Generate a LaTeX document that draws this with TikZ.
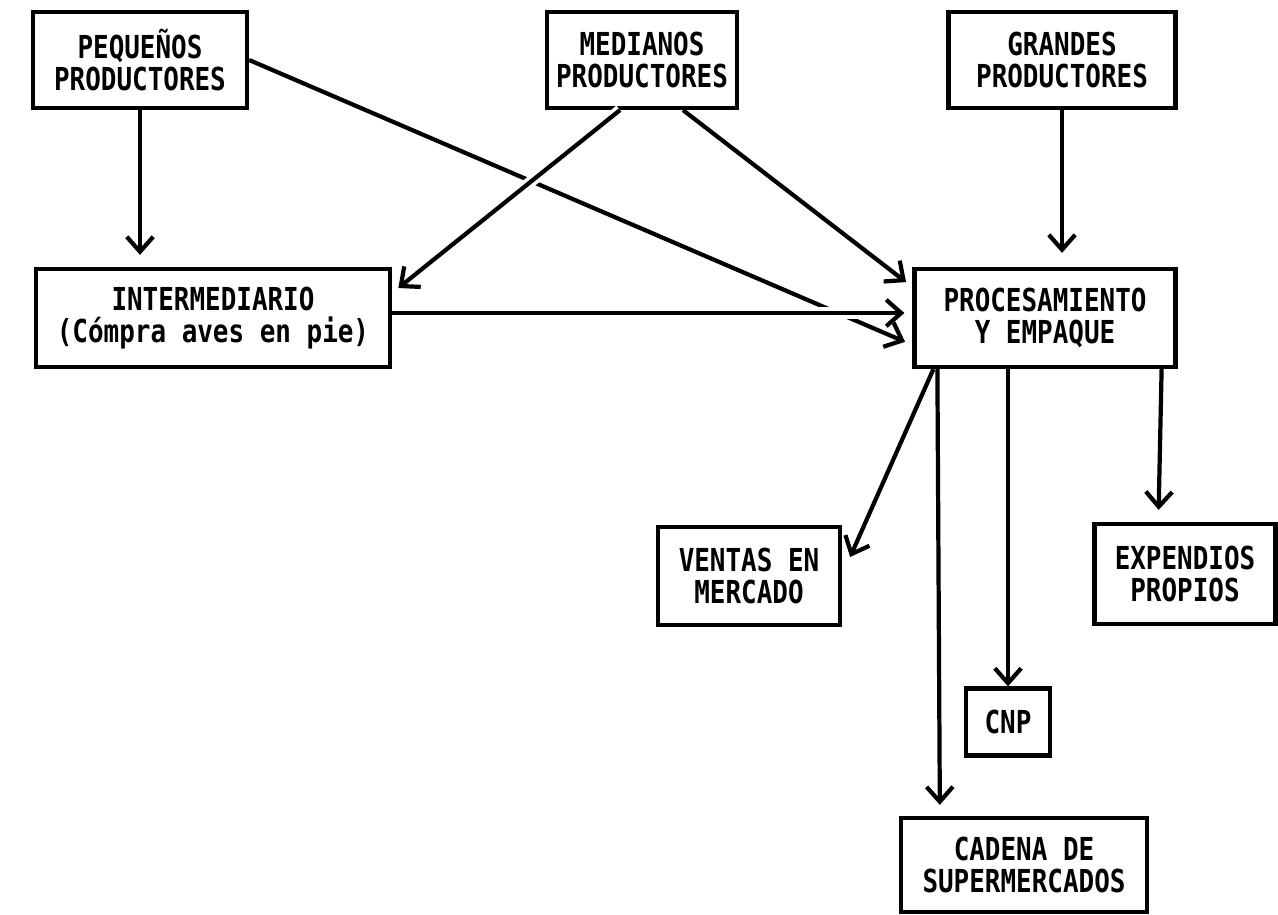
\documentclass[tikz,border=0pt]{standalone}
\usepackage{fontspec}
\setmainfont{DejaVu Sans Mono}[FakeStretch=0.82]
\usetikzlibrary{positioning}
\usetikzlibrary{arrows.meta}
\usetikzlibrary{calc}
\tikzstyle{box}=[rectangle,draw=black,line width=2.4pt,align=center,inner sep=0pt,font=\bfseries\fontsize{18}{18.5}\selectfont]
\tikzstyle{edge} = [draw,line width=2.4pt,->]
\tikzstyle{hopedge} = [edge,preaction={draw=white,line width=6.5pt}]
\tikzset{>={Straight Barb[length=8.5pt,width=15pt]}}

\begin{document}
\begin{tikzpicture}[x=0.02cm,y=-0.02cm]

  \def\u{0.02};
  \useasboundingbox (0,0) rectangle (1278,915);

  % productores
  \foreach \x/\y/\w/\h/\name/\label in {140/60/214/96/peq/{PEQUEÑOS\\PRODUCTORES}, 642/60/190/96/med/{MEDIANOS\\PRODUCTORES}, 1062/60/227/96/gra/{GRANDES\\PRODUCTORES}}
          \node[box,minimum width=\w*\u*1cm,minimum height=\h*\u*1cm] (\name) at (\x,\y) {\label};

  \foreach \x/\y/\w/\h/\name/\label in {213/318/354/98/inter/{INTERMEDIARIO\\(Cómpra aves en pie)}, 1045/318/261/98/proc/{PROCESAMIENTO\\Y EMPAQUE}}
          \node[box,minimum width=\w*\u*1cm,minimum height=\h*\u*1cm] (\name) at (\x,\y) {\label};

  % destinos
  \foreach \x/\y/\w/\h/\name/\label in {749/576/182/98/ventas/{VENTAS EN\\MERCADO}, 1185/574/181/100/exp/{EXPENDIOS\\PROPIOS}, 1008/722/84/67/cnp/{CNP}, 1024/865/246/94/cad/{CADENA DE\\SUPERMERCADOS}}
          \node[box,minimum width=\w*\u*1cm,minimum height=\h*\u*1cm] (\name) at (\x,\y) {\label};

  \path[edge,shorten >=0.24cm] (peq.south) -- (peq.south |- inter.north);
  \path[edge,shorten >=0.16cm] (peq.east) -- ($(proc.west)+(0,27)$);
  \path[hopedge,shorten >=0.16cm] ($(med.south)+(-22,0)$) -- ($(inter.east)+(0,-25)$);
  \path[edge,shorten >=0.16cm] ($(med.south)+(41,0)$) -- ($(proc.west)+(0,-31)$);
  \path[hopedge,shorten >=0.16cm] ($(inter.east)+(0,-5)$) -- ($(proc.west)+(0,-5)$);
  \path[edge,shorten >=0.28cm] (gra.south) -- (gra.south |- proc.north);

  \path[edge] ($(proc.south west)+(21,0)$) -- ($(ventas.east)+(8,-19)$);
  \path[edge,shorten >=0.22cm] ($(proc.south west)+(25,0)$) -- ($(cad.north west)+(41,0)$);
  \path[edge] (cnp.north |- proc.south) -- (cnp.north);
  \path[edge,shorten >=0.24cm] ($(proc.south east)+(-16,0)$) -- ($(exp.north west)+(66,0)$);

\end{tikzpicture}
\end{document}
